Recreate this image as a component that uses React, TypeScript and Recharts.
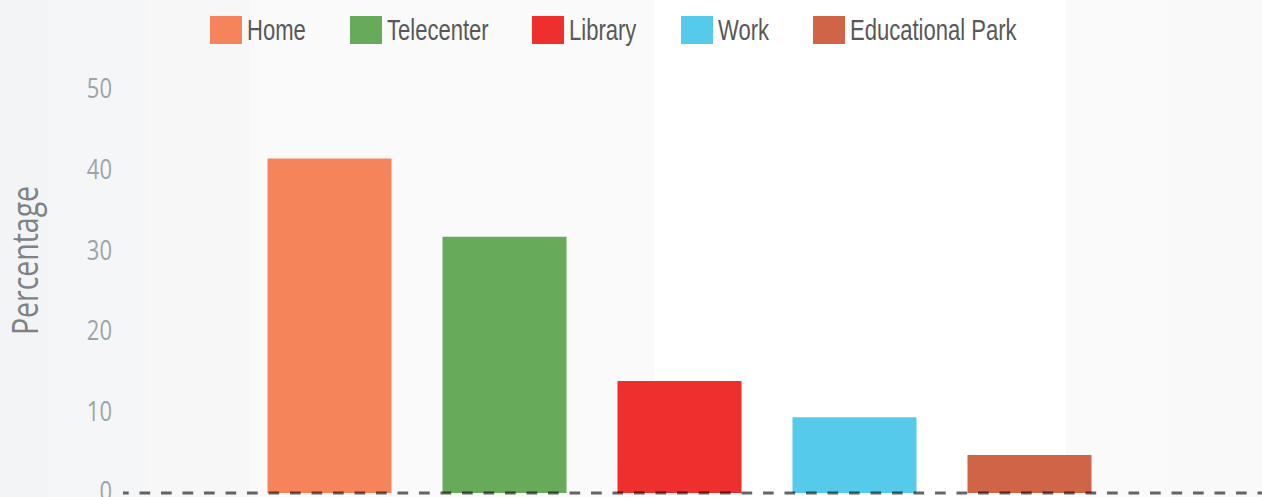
import { BarChart, Bar, Cell, XAxis, YAxis, Legend } from "recharts";

document.body.style.margin = "0";
document.body.style.overflow = "hidden";

const categories = ["Home", "Telecenter", "Library", "Work", "Educational Park"];
const percentages = [41.5, 31.8, 13.9, 9.4, 4.7];
const colors = ["#f6845b", "#66aa5a", "#ee2f2d", "#56caea", "#cf6446"];
const yTicks = [0, 10, 20, 30, 40, 50];

const data = categories.map((name, i) => ({ name, value: percentages[i] }));

// the original uses a condensed face; squeeze installed fonts horizontally instead
const LEGEND_FONT = "'Liberation Sans', Arial, sans-serif";
const LEGEND_SIZE = 29;
const LEGEND_SQUEEZE = 0.76;
const TICK_FONT = "'Open Sans', sans-serif";

let measureCtx: CanvasRenderingContext2D | null = null;
function textWidth(s: string, font: string) {
    if (!measureCtx) measureCtx = document.createElement("canvas").getContext("2d");
    if (!measureCtx) return s.length * 14;
    measureCtx.font = font;
    return measureCtx.measureText(s).width;
}

function LegendContent() {
    return (
        <div style={{ display: "flex", paddingLeft: 210, paddingTop: 6, height: 80, boxSizing: "border-box" }}>
            {categories.map((name, i) => {
                const w = textWidth(name, `${LEGEND_SIZE}px ${LEGEND_FONT}`) * LEGEND_SQUEEZE;
                return (
                    <div key={name} style={{ display: "flex", alignItems: "center", height: 28, marginRight: 44 }}>
                        <span style={{ display: "inline-block", width: 32, height: 28, background: colors[i], marginRight: 5 }} />
                        <span style={{ display: "inline-block", width: w, height: 28, position: "relative" }}>
                            <span
                                style={{
                                    position: "absolute",
                                    left: 0,
                                    top: 0,
                                    fontFamily: LEGEND_FONT,
                                    fontSize: LEGEND_SIZE,
                                    color: "#585858",
                                    lineHeight: "28px",
                                    whiteSpace: "nowrap",
                                    transform: `scaleX(${LEGEND_SQUEEZE})`,
                                    transformOrigin: "0 0",
                                }}
                            >
                                {name}
                            </span>
                        </span>
                    </div>
                );
            })}
        </div>
    );
}

function YTick(props: any) {
    const { x, y, payload } = props;
    return (
        <text
            transform={`translate(${x}, ${y - 2}) scale(0.83, 1)`}
            textAnchor="end"
            dominantBaseline="central"
            fill="#9ba5a9"
            fontSize={26.5}
            fontFamily={TICK_FONT}
        >
            {payload.value}
        </text>
    );
}

function YLabel(props: any) {
    const vb = props.viewBox || {};
    const cy = vb.y + vb.height / 2 - 31;
    const cx = 38;
    return (
        <text
            transform={`translate(${cx}, ${cy}) rotate(-90) scale(0.79, 1)`}
            textAnchor="middle"
            fill="#7d8285"
            fontSize={36}
            fontFamily={TICK_FONT}
        >
            Percentage
        </text>
    );
}

export default function App() {
    const bg =
        "linear-gradient(to right, #f3f4f6 0px, #f3f4f6 48px, #f5f6f7 48px, #f5f6f7 148px, #f7f7f8 148px, #f7f7f8 250px, #fafafa 250px, #fafafa 654px, #ffffff 654px, #ffffff 1066px, #fafafa 1066px, #fafafa 1168px, #f9f9f9 1168px)";
    return (
        <div style={{ width: 1262, height: 497, background: bg }}>
            <BarChart width={1262} height={497} data={data} margin={{ top: 10, right: 0, bottom: 3, left: 0 }}>
                <Legend
                    verticalAlign="top"
                    align="left"
                    content={<LegendContent />}
                    wrapperStyle={{ left: 0, top: 10, width: 1262 }}
                />
                <YAxis
                    width={123}
                    domain={[0, 50]}
                    ticks={yTicks}
                    interval={0}
                    axisLine={false}
                    tickLine={false}
                    tickMargin={5}
                    tick={<YTick />}
                    label={<YLabel />}
                />
                <Bar dataKey="value" barSize={124} isAnimationActive={false}>
                    {data.map((d, i) => (
                        <Cell key={d.name} fill={colors[i]} />
                    ))}
                </Bar>
                <XAxis
                    dataKey="name"
                    height={1}
                    tick={false}
                    tickLine={false}
                    padding={{ left: 118.5, right: 145.5 }}
                    axisLine={{ stroke: "rgba(0,0,0,0.6)", strokeWidth: 3, strokeDasharray: "10.7 10.8", strokeDashoffset: 5 }}
                />
            </BarChart>
        </div>
    );
}
